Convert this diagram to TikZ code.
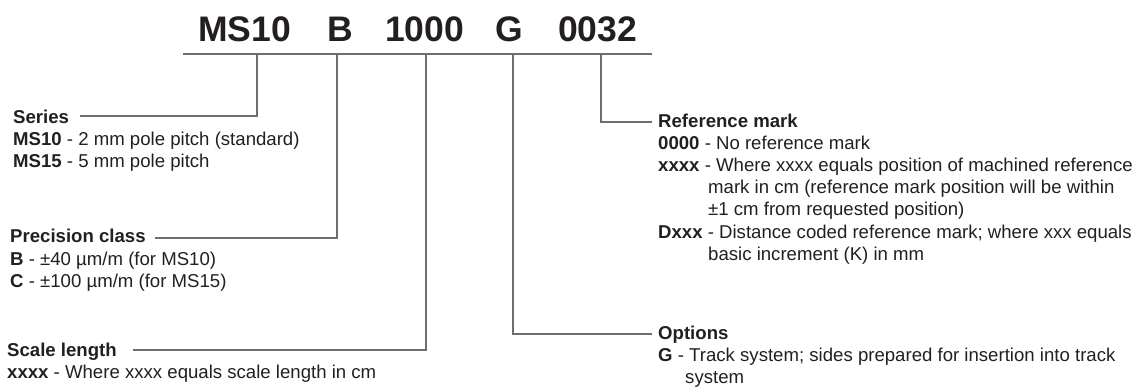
\documentclass[tikz,border=0pt]{standalone}
\usepackage{fontspec}
\setmainfont{Liberation Sans}
\definecolor{txt}{RGB}{35,31,32}
\definecolor{ln}{RGB}{110,110,110}
\tikzset{
  lbl/.style={anchor=base west, inner sep=0pt, text=txt, font=\fontsize{18.6}{22}\selectfont},
  ttl/.style={anchor=base west, inner sep=0pt, text=txt, font=\fontsize{35.5}{40}\selectfont\bfseries},
  conn/.style={draw=ln, line width=2pt},
}
\begin{document}
\begin{tikzpicture}[x=1pt,y=-1pt]
\useasboundingbox (0,0) rectangle (1147,387);
% title
\node[ttl] (tMS) at (198,42) {MS10};
\node[ttl] (tB) at (327,42) {B};
\node[ttl] (tL) at (385,42) {1000};
\node[ttl] (tG) at (495,42) {G};
\node[ttl] (tR) at (558,42) {0032};
% bar
\coordinate (barL) at (183,54);
\coordinate (barR) at (652,54);
\draw[conn] (barL) -- (barR);
\coordinate (b1) at (257,54);
\coordinate (b2) at (337,54);
\coordinate (b3) at (426,54);
\coordinate (b4) at (513,54);
\coordinate (b5) at (601,54);
% Series
\node[lbl] (s0) at (13,124) {\textbf{Series}};
\node[lbl] (s1) at (13,146) {\textbf{MS10} - 2 mm pole pitch (standard)};
\node[lbl] (s2) at (13,168) {\textbf{MS15} - 5 mm pole pitch};
\coordinate (e1) at (80,116);
\draw[conn] (b1) |- (e1);
% Precision
\node[lbl] (p0) at (10,243) {\textbf{Precision class}};
\node[lbl] (p1) at (10,265) {\textbf{B} - ±40 µm/m (for MS10)};
\node[lbl] (p2) at (10,287) {\textbf{C} - ±100 µm/m (for MS15)};
\coordinate (e2) at (155,238);
\draw[conn] (b2) |- (e2);
% Scale length
\node[lbl] (l0) at (7,356) {\textbf{Scale length}};
\node[lbl] (l1) at (7,378) {\textbf{xxxx} - Where xxxx equals scale length in cm};
\coordinate (e3) at (133,350);
\draw[conn] (b3) |- (e3);
% Options
\node[lbl] (o0) at (658,339) {\textbf{Options}};
\node[lbl] (o1) at (658,361) {\textbf{G} - Track system; sides prepared for insertion into track};
\node[lbl] (o2) at (685,383) {system};
\coordinate (e4) at (652,334);
\draw[conn] (b4) |- (e4);
% Reference mark
\node[lbl] (r0) at (658,128) {\textbf{Reference mark}};
\node[lbl] (r1) at (658,150) {\textbf{0000} - No reference mark};
\node[lbl] (r2) at (658,172) {\textbf{xxxx} - Where xxxx equals position of machined reference};
\node[lbl] (r3) at (708,194) {mark in cm (reference mark position will be within};
\node[lbl] (r4) at (708,216) {±1 cm from requested position)};
\node[lbl] (r5) at (658,238) {\textbf{Dxxx} - Distance coded reference mark; where xxx equals};
\node[lbl] (r6) at (708,260) {basic increment (K) in mm};
\coordinate (e5) at (652,122);
\draw[conn] (b5) |- (e5);
\end{tikzpicture}
\end{document}
